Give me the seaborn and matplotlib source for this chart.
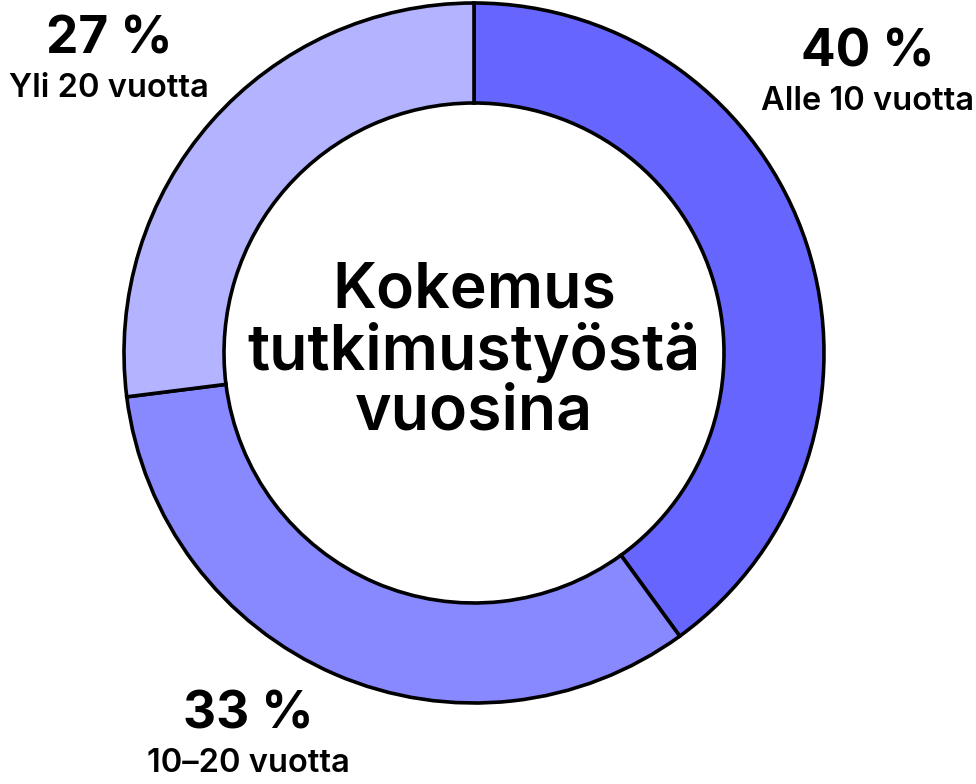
import matplotlib
matplotlib.use("Agg")
import matplotlib.pyplot as plt
import seaborn as sns

# Share of respondents by years of research experience
categories = ["Alle 10 vuotta", "10–20 vuotta", "Yli 20 vuotta"]
shares = [40, 33, 27]
colors = ["#6666FF", "#8888FF", "#B3B3FF"]
center_title = "Kokemus\ntutkimustyöstä\nvuosina"

sns.set_theme(style="white")
plt.rcParams["font.family"] = ["Inter", "DejaVu Sans"]

W, H = 976, 784
fig = plt.figure(figsize=(W / 100, H / 100), dpi=100)
ax = fig.add_axes([0, 0, 1, 1])

cx, cy = 474, H - 353
r_out, r_in = 350, 250

ax.pie(
    shares,
    colors=colors,
    startangle=90,
    counterclock=False,
    radius=r_out,
    center=(cx, cy),
    wedgeprops=dict(width=r_out - r_in, edgecolor="black", linewidth=2.6),
    frame=True,
)
ax.set_xlim(0, W)
ax.set_ylim(0, H)
ax.set_aspect("equal")
ax.axis("off")

# Center title
ax.text(cx, H - 352, center_title, ha="center", va="center",
        fontsize=45, fontweight="semibold", color="black", linespacing=1.02)

# Outside labels: percentage + category
label_pos = {
    "Alle 10 vuotta": (868, 53),
    "10–20 vuotta": (248, 715),
    "Yli 20 vuotta": (109, 40),
}
for cat, val in zip(categories, shares):
    x, y = label_pos[cat]
    ax.text(x, H - y, f"{val} %", ha="center", va="center",
            fontsize=37, fontweight="bold", color="black")
    ax.text(x, H - y - 48, cat, ha="center", va="center",
            fontsize=23.5, fontweight="semibold", color="black")

fig.savefig("out.png", dpi=100)
